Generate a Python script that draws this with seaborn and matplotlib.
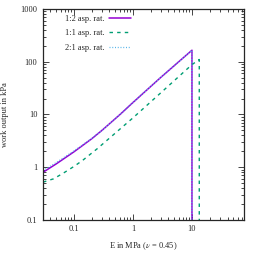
import numpy as np
import pandas as pd
import seaborn as sns
import matplotlib
matplotlib.use("Agg")
import matplotlib.pyplot as plt
from matplotlib.ticker import FixedLocator, LogLocator, NullFormatter, FuncFormatter

# Data (E in MPa, work output in kPa)
E_12 = [0.03, 0.05, 0.1, 0.2, 0.3, 0.6, 1.0, 3.0, 10.0, 10.0]
W_12 = [0.8, 1.15, 1.95, 3.45, 5.0, 9.9, 16.8, 51.0, 165.0, 0.001]
E_11 = [0.03, 0.045, 0.065, 0.1, 0.14, 0.25, 0.5, 1.0, 3.0, 10.0, 13.0, 13.3, 13.3]
W_11 = [0.52, 0.6, 0.76, 1.03, 1.34, 2.25, 4.4, 8.6, 26.0, 88.0, 108.0, 110.0, 0.001]
E_21 = [0.03, 0.05, 0.1, 0.2, 0.3, 0.6, 1.0, 3.0, 10.0, 10.0]
W_21 = [0.86, 1.22, 2.03, 3.5, 5.0, 9.9, 16.8, 51.0, 165.0, 0.001]
labels = ["1:2 asp. rat.", "1:1 asp. rat.", "2:1 asp. rat."]
x_ticks = [0.1, 1, 10]
y_ticks = [0.1, 1, 10, 100, 1000]

sns.set_style("ticks")
plt.rcParams['font.family'] = ['Liberation Serif', 'DejaVu Serif']
plt.rcParams['mathtext.fontset'] = 'stix'

fig = plt.figure(figsize=(2.56, 2.56), dpi=100)
ax = fig.add_axes([0.168, 0.141, 0.785, 0.824])

series = [(E_12, W_12, '#9400d3', '-', 1.1),
          (E_11, W_11, '#009e73', (0, (2.5, 3.0)), 1.0),
          (E_21, W_21, '#56b4e9', (0, (0.8, 1.4)), 0.9)]
for (E, W, c, ls, lw), lab in zip(series, labels):
    df = pd.DataFrame({"E": E, "W": W})
    sns.lineplot(data=df, x="E", y="W", sort=False, color=c, linestyle=ls,
                 linewidth=lw, label=lab, ax=ax, estimator=None)

ax.set_xscale('log')
ax.set_yscale('log')
ax.set_xlim(0.03, 76)
ax.set_ylim(0.1, 1000)

fmt = FuncFormatter(lambda v, p: '%g' % v)
ax.xaxis.set_major_locator(FixedLocator(x_ticks))
ax.yaxis.set_major_locator(FixedLocator(y_ticks))
ax.xaxis.set_major_formatter(fmt)
ax.yaxis.set_major_formatter(fmt)
ax.xaxis.set_minor_locator(LogLocator(base=10, subs=np.arange(2, 10), numticks=20))
ax.yaxis.set_minor_locator(LogLocator(base=10, subs=np.arange(2, 10), numticks=20))
ax.xaxis.set_minor_formatter(NullFormatter())
ax.yaxis.set_minor_formatter(NullFormatter())
ax.tick_params(which='both', direction='in', top=True, right=True, labelsize=6, width=0.6, pad=4)
ax.tick_params(which='major', length=4)
ax.tick_params(which='minor', length=2)
for s in ax.spines.values():
    s.set_linewidth(0.9)
    s.set_visible(True)

ax.set_xlabel("E in MPa ($\\nu$ = 0.45)", fontsize=6, labelpad=5)
ax.set_ylabel("work output in kPa", fontsize=6, labelpad=8)

leg = ax.legend(loc='upper left', frameon=False, fontsize=6, markerfirst=False,
                handlelength=2.6, handletextpad=0.5, labelspacing=0.75,
                bbox_to_anchor=(0.085, 0.995), borderaxespad=0.2)

fig.savefig("out.png", dpi=100)
